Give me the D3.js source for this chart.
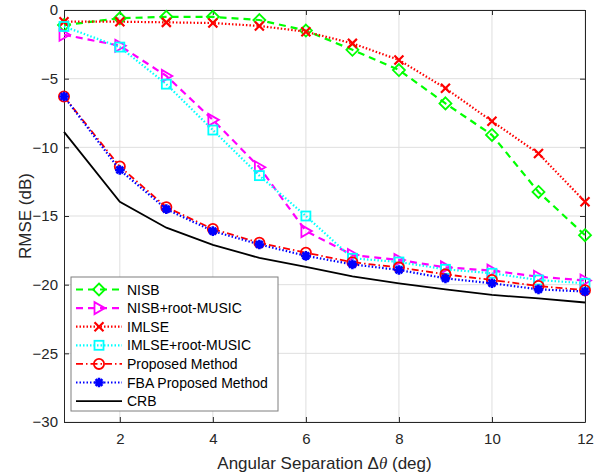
<!DOCTYPE html>
<html>
<head>
<meta charset="utf-8"/>
<title>RMSE vs angular separation</title>
<script src="https://cdn.jsdelivr.net/npm/d3@7"></script>
<style>
html, body { margin: 0; padding: 0; background: #fff; }
svg { font-family: "Liberation Sans", Arial, sans-serif; }
</style>
</head>
<body>
<svg id="chart" width="595" height="476"></svg>
<script>
// angular separation (deg)
var angles = [0.8, 2, 3, 4, 5, 6, 7, 8, 9, 10, 11, 12];

// RMSE in dB
var nisb      = [-1.1, -0.6, -0.5, -0.5, -0.73, -1.5, -2.9, -4.37, -6.8, -9.1, -13.25, -16.4];
var nisbMusic = [-1.8, -2.6, -4.8, -8.0, -11.45, -16.1, -17.84, -18.2, -18.74, -18.98, -19.42, -19.7];
var imlse     = [-0.85, -0.85, -0.9, -0.95, -1.16, -1.58, -2.43, -3.64, -5.7, -8.1, -10.45, -13.96];
var imlseMusic = [-1.2, -2.7, -5.4, -8.74, -12.06, -15.0, -18.08, -18.35, -18.88, -19.17, -19.66, -19.9];
var proposed  = [-6.3, -11.4, -14.36, -15.95, -16.95, -17.67, -18.37, -18.74, -19.25, -19.66, -20.1, -20.4];
var fba       = [-6.3, -11.65, -14.5, -16.1, -17.07, -17.9, -18.52, -18.93, -19.54, -19.9, -20.34, -20.5];
var crb       = [-8.87, -13.96, -15.85, -17.1, -18.05, -18.7, -19.4, -19.9, -20.34, -20.75, -21.0, -21.3];

var xTicks = [2, 4, 6, 8, 10, 12];
var yTicks = [0, -5, -10, -15, -20, -25, -30];

var series = [
    {name: "NISB", data: nisb, color: "#00ff00", dash: "7,5", marker: "diamond"},
    {name: "NISB+root-MUSIC", data: nisbMusic, color: "#ff00ff", dash: "7,5", marker: "triangle"},
    {name: "IMLSE", data: imlse, color: "#ff0000", dash: "1.5,2", marker: "cross"},
    {name: "IMLSE+root-MUSIC", data: imlseMusic, color: "#00ffff", dash: "1.5,2", marker: "square"},
    {name: "Proposed Method", data: proposed, color: "#ff0000", dash: "7,3,1.5,3", marker: "circle"},
    {name: "FBA Proposed Method", data: fba, color: "#0000ff", dash: "1.5,2", marker: "star"},
    {name: "CRB", data: crb, color: "#000000", dash: null, marker: null}
];

var margin = {top: 10, right: 10, bottom: 54, left: 64};
var width = 595 - margin.left - margin.right;
var height = 476 - margin.top - margin.bottom;

var x = d3.scaleLinear().domain([0.8, 12]).range([0, width]);
var y = d3.scaleLinear().domain([-30, 0]).range([height, 0]);

var svg = d3.select("#chart");
var g = svg.append("g").attr("transform", "translate(" + margin.left + "," + margin.top + ")");

// grid
g.selectAll(".gx").data(xTicks).enter().append("line")
    .attr("x1", d => x(d)).attr("x2", d => x(d))
    .attr("y1", 0).attr("y2", height)
    .attr("stroke", "#dfdfdf").attr("stroke-width", 1);
g.selectAll(".gy").data(yTicks).enter().append("line")
    .attr("y1", d => y(d)).attr("y2", d => y(d))
    .attr("x1", 0).attr("x2", width)
    .attr("stroke", "#dfdfdf").attr("stroke-width", 1);

// axes, ticks pointing inward
var xAxis = g.append("g").attr("transform", "translate(0," + height + ")")
    .call(d3.axisBottom(x).tickValues(xTicks).tickSizeInner(-5).tickSizeOuter(0).tickPadding(11));
var xAxisTop = g.append("g")
    .call(d3.axisTop(x).tickValues(xTicks).tickSizeInner(-5).tickSizeOuter(0).tickFormat(""));
var yAxis = g.append("g")
    .call(d3.axisLeft(y).tickValues(yTicks).tickSizeInner(-5).tickSizeOuter(0).tickPadding(6));
var yAxisRight = g.append("g").attr("transform", "translate(" + width + ",0)")
    .call(d3.axisRight(y).tickValues(yTicks).tickSizeInner(-5).tickSizeOuter(0).tickFormat(""));
[xAxis, xAxisTop, yAxis, yAxisRight].forEach(function(a) {
    a.select(".domain").attr("stroke", "#262626").attr("stroke-width", 1);
    a.selectAll(".tick line").attr("stroke", "#262626");
    a.selectAll(".tick text").attr("fill", "#262626").style("font-size", "15px");
});

// clip for lines
svg.append("defs").append("clipPath").attr("id", "plotclip")
    .append("rect").attr("x", -8).attr("y", -8).attr("width", width + 16).attr("height", height + 16);

var line = d3.line().x((d, i) => x(angles[i])).y(d => y(d));

function drawMarker(sel, type, color, s) {
    if (type === "diamond") {
        sel.append("path").attr("d", "M0," + (-s) + "L" + s + ",0L0," + s + "L" + (-s) + ",0Z")
            .attr("fill", "none").attr("stroke", color).attr("stroke-width", 1.8);
    } else if (type === "triangle") {
        sel.append("path").attr("d", "M" + s + ",0L" + (-s * 0.75) + "," + (-s) + "L" + (-s * 0.75) + "," + s + "Z")
            .attr("fill", "none").attr("stroke", color).attr("stroke-width", 1.8);
    } else if (type === "cross") {
        var c = s * 0.75;
        sel.append("path").attr("d", "M" + (-c) + "," + (-c) + "L" + c + "," + c + "M" + (-c) + "," + c + "L" + c + "," + (-c))
            .attr("stroke", color).attr("stroke-width", 2.2);
    } else if (type === "square") {
        var q = s * 0.75;
        sel.append("rect").attr("x", -q).attr("y", -q).attr("width", 2 * q).attr("height", 2 * q)
            .attr("fill", "none").attr("stroke", color).attr("stroke-width", 1.8);
    } else if (type === "circle") {
        sel.append("circle").attr("r", s * 0.85)
            .attr("fill", "none").attr("stroke", color).attr("stroke-width", 1.8);
    } else if (type === "star") {
        var r = s * 0.8;
        var p = "";
        for (var k = 0; k < 4; k++) {
            var a = k * Math.PI / 4;
            p += "M" + (-r * Math.cos(a)) + "," + (-r * Math.sin(a)) + "L" + (r * Math.cos(a)) + "," + (r * Math.sin(a));
        }
        sel.append("path").attr("d", p).attr("stroke", color).attr("stroke-width", 2.6);
    }
}

var plot = g.append("g").attr("clip-path", "url(#plotclip)");
series.forEach(function(s) {
    plot.append("path")
        .attr("d", line(s.data))
        .attr("fill", "none")
        .attr("stroke", s.color)
        .attr("stroke-width", s.dash && s.dash.length < 6 ? 2.2 : 1.8)
        .attr("stroke-dasharray", s.dash);
    if (s.marker) {
        s.data.forEach(function(v, i) {
            var m = plot.append("g").attr("transform", "translate(" + x(angles[i]) + "," + y(v) + ")");
            drawMarker(m, s.marker, s.color, 6);
        });
    }
});

// axis labels
svg.append("text")
    .attr("x", margin.left + width / 2).attr("y", 469)
    .attr("text-anchor", "middle").attr("fill", "#262626").style("font-size", "17px")
    .html("Angular Separation \u0394<tspan font-style='italic' font-family='Liberation Serif, serif'>\u03b8</tspan> (deg)");
svg.append("text")
    .attr("transform", "translate(31," + (margin.top + height / 2) + ") rotate(-90)")
    .attr("text-anchor", "middle").attr("fill", "#262626").style("font-size", "17px")
    .text("RMSE (dB)");

// legend
var lg = svg.append("g").attr("transform", "translate(71,277)");
lg.append("rect").attr("width", 207).attr("height", 134)
    .attr("fill", "#fff").attr("stroke", "#7f7f7f").attr("stroke-width", 1);
series.forEach(function(s, i) {
    var cy = 12.5 + i * 18.6;
    lg.append("line").attr("x1", 5).attr("x2", 51).attr("y1", cy).attr("y2", cy)
        .attr("stroke", s.color)
        .attr("stroke-width", s.dash && s.dash.length < 6 ? 2.2 : 1.8)
        .attr("stroke-dasharray", s.dash);
    if (s.marker) {
        var m = lg.append("g").attr("transform", "translate(28," + cy + ")");
        drawMarker(m, s.marker, s.color, 6);
    }
    lg.append("text").attr("x", 56).attr("y", cy + 5)
        .attr("fill", "#000").style("font-size", "14px").text(s.name);
});
</script>
</body>
</html>
